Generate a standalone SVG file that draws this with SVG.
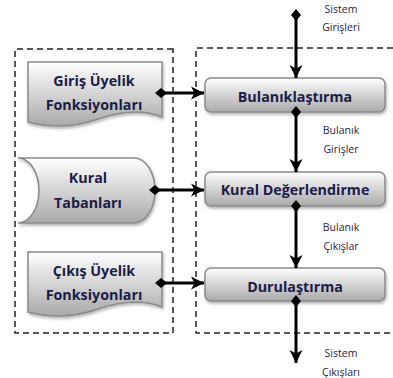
<svg xmlns="http://www.w3.org/2000/svg" width="393" height="378" viewBox="0 0 393 378">
<style>
.dash{fill:none;stroke:#222;stroke-width:1.5;stroke-dasharray:6,4}
.node{fill:url(#g);stroke:#8a8a8a;stroke-width:1.5;filter:url(#sh)}
.t{font-family:"Open Sans","Liberation Sans",sans-serif;font-weight:bold;font-size:14.3px;fill:#1c1c48;text-anchor:middle;dominant-baseline:central}
.l{font-family:"Open Sans","Liberation Sans",sans-serif;font-size:10.5px;fill:#2a2440;text-anchor:middle;dominant-baseline:central}
.c{fill:none;stroke:#000;stroke-width:3;marker-start:url(#dia);marker-end:url(#arr)}
</style>
<defs>
<linearGradient id="g" x1="0" y1="0" x2="0" y2="1">
<stop offset="0" stop-color="#ffffff"/>
<stop offset="1" stop-color="#a9a9a9"/>
</linearGradient>
<filter id="sh" x="-10%" y="-10%" width="120%" height="130%">
<feDropShadow dx="1" dy="2" stdDeviation="1.5" flood-color="#000" flood-opacity="0.3"/>
</filter>
<marker id="dia" markerUnits="userSpaceOnUse" markerWidth="14" markerHeight="14" refX="7" refY="7" orient="auto">
<path d="M1,7 L7,2 L13,7 L7,12 Z" fill="#000"/>
</marker>
<marker id="arr" markerUnits="userSpaceOnUse" markerWidth="16" markerHeight="16" refX="14" refY="8" orient="auto">
<path d="M1,1.5 L14,8 L1,14.5 L4.5,8 Z" fill="#000"/>
</marker>
</defs>
<path class="dash" d="M173,49 H15 V333 H173 Z"/>
<path class="dash" d="M393,48 H196 V333 H393"/>
<g id="giris-uyelik">
<path class="node" d="M28,62 H162 V117 C140,108 118,112 98,119 C75,127 50,128 28,122 Z"/>
<text class="t" x="94" y="80">Giriş Üyelik</text>
<text class="t" x="94" y="104">Fonksiyonları</text>
</g>
<g id="kural-tabanlari">
<path class="node" d="M18,158 H134 A21,32.5 0 0 1 134,223 H18 A21,32.5 0 0 0 18,158 Z"/>
<text class="t" x="88" y="177">Kural</text>
<text class="t" x="88" y="202">Tabanları</text>
</g>
<g id="cikis-uyelik">
<path class="node" d="M28,252 H162 V307 C140,298 118,302 98,309 C75,317 50,318 28,312 Z"/>
<text class="t" x="94" y="270">Çıkış Üyelik</text>
<text class="t" x="94" y="294">Fonksiyonları</text>
</g>
<g id="bulaniklastirma">
<rect class="node" x="205" y="78" width="180" height="34" rx="6"/>
<text class="t" x="295" y="96">Bulanıklaştırma</text>
</g>
<g id="kural-degerlendirme">
<rect class="node" x="205" y="172" width="180" height="34" rx="6"/>
<text class="t" x="295" y="189">Kural Değerlendirme</text>
</g>
<g id="durulastirma">
<rect class="node" x="205" y="268" width="180" height="33" rx="6"/>
<text class="t" x="295" y="286">Durulaştırma</text>
</g>
<g id="connectors">
<path class="c" d="M161,93 H204"/>
<path class="c" d="M155,190 H204"/>
<path class="c" d="M161,283 H204"/>
<path class="c" d="M296,15 V78"/>
<path class="c" d="M296,112 V172"/>
<path class="c" d="M296,206 V268"/>
<path class="c" d="M296,301 V363"/>
</g>
<g id="labels">
<text class="l" x="341" y="9">Sistem</text>
<text class="l" x="341" y="27">Girişleri</text>
<text class="l" x="341" y="130">Bulanık</text>
<text class="l" x="341" y="149">Girişler</text>
<text class="l" x="341" y="227">Bulanık</text>
<text class="l" x="341" y="246">Çıkışlar</text>
<text class="l" x="341" y="353">Sistem</text>
<text class="l" x="341" y="372">Çıkışları</text>
</g>
</svg>
